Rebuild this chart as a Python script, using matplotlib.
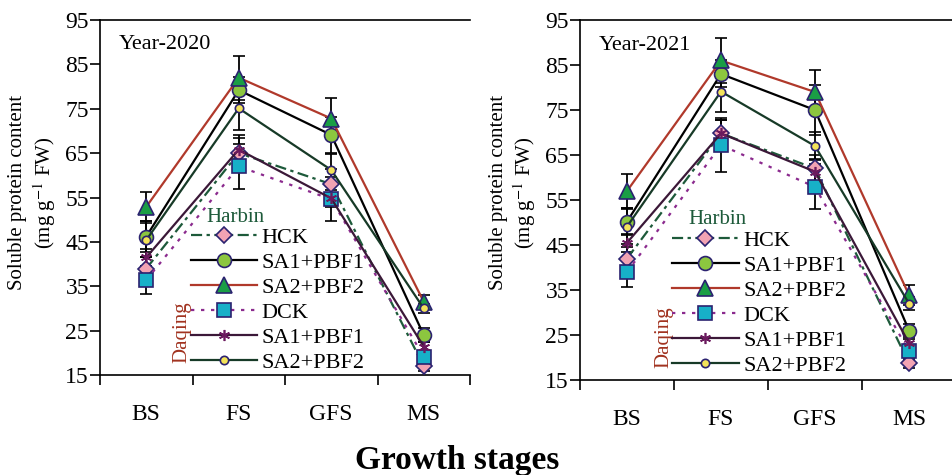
import matplotlib
matplotlib.use("Agg")
import matplotlib.pyplot as plt
from matplotlib.lines import Line2D

plt.rcParams["font.family"] = ["Liberation Serif", "DejaVu Serif"]
plt.rcParams["mathtext.fontset"] = "stix"

stages = ["BS", "FS", "GFS", "MS"]
series_labels = ["HCK", "SA1+PBF1", "SA2+PBF2", "DCK", "SA1+PBF1", "SA2+PBF2"]

# 2020 means and error bars (mg g-1 FW)
hck_2020 = [39.0, 65.0, 58.0, 17.0]
sa1_h_2020 = [46.2, 79.2, 69.1, 24.0]
sa2_h_2020 = [52.9, 82.0, 72.8, 31.5]
dck_2020 = [36.4, 62.0, 54.6, 19.1]
sa1_d_2020 = [41.5, 65.8, 54.8, 21.4]
sa2_d_2020 = [45.4, 75.1, 61.2, 30.0]
err_2020 = [
    [2.5, 4.0, 3.5, 1.0],
    [3.5, 3.0, 4.0, 1.5],
    [3.3, 5.0, 4.6, 1.5],
    [3.2, 5.0, 5.0, 1.2],
    [2.0, 2.5, 2.0, 1.0],
    [3.8, 5.0, 3.5, 1.0],
]

# 2021 means and error bars
hck_2021 = [42.0, 69.8, 62.0, 18.7]
sa1_h_2021 = [50.2, 83.0, 75.0, 26.0]
sa2_h_2021 = [57.0, 86.0, 79.0, 33.9]
dck_2021 = [39.0, 67.2, 57.9, 21.4]
sa1_d_2021 = [45.5, 69.8, 61.3, 23.2]
sa2_d_2021 = [49.1, 79.1, 67.0, 32.0]
err_2021 = [
    [2.5, 3.0, 3.0, 1.0],
    [3.0, 3.0, 5.5, 1.5],
    [3.8, 5.0, 4.8, 2.3],
    [3.3, 6.0, 5.0, 1.2],
    [2.0, 3.0, 2.5, 1.0],
    [3.8, 4.5, 3.0, 1.5],
]

serif = "Liberation Serif"
edge = "#2b2270"
styles = [
    dict(color="#1d5a3a", ls=(0, (5, 2, 1.5, 2)), marker="D", mfc="#f2a3b3", ms=8),
    dict(color="black", ls="-", marker="o", mfc="#8cc63f", ms=10),
    dict(color="#b0392b", ls="-", marker="^", mfc="#1a9e45", ms=11),
    dict(color="#8b2a8e", ls=(0, (1.5, 3)), marker="s", mfc="#17b0c8", ms=10),
    dict(color="#3b1838", ls="-", marker=(6, 2, 0), mfc="#6b1a5e", ms=8, mec="#6b1a5e"),
    dict(color="#173a27", ls="-", marker="o", mfc="#f3e35a", ms=6),
]


def draw_panel(ax, data, errs, year_label):
    x = [0.5, 1.5, 2.5, 3.5]
    handles = []
    for vals, err, st in zip(data, errs, styles):
        mec = st.get("mec", edge)
        ax.errorbar(x, vals, yerr=err, color=st["color"], ls=st["ls"], lw=1.6,
                    marker=st["marker"], mfc=st["mfc"], mec=mec, mew=1.2,
                    ms=st["ms"], ecolor="black", elinewidth=1.3, capsize=4,
                    capthick=1.3, zorder=3)
        handles.append(Line2D([], [], color=st["color"], ls=st["ls"], lw=1.6,
                              marker=st["marker"], mfc=st["mfc"], mec=mec,
                              mew=1.2, ms=st["ms"]))

    ax.set_xlim(0, 4)
    ax.set_ylim(15, 95)
    ax.set_yticks(range(15, 96, 10))
    ax.set_xticks([0, 1, 2, 3, 4])
    ax.set_xticklabels([])
    ax.set_xticks(x, minor=True)
    ax.set_xticklabels(stages, minor=True, family=serif)
    ax.set_yticklabels([str(v) for v in range(15, 96, 10)], family=serif)
    ax.tick_params(axis="x", which="major", direction="out", length=7, width=1.2)
    ax.tick_params(axis="x", which="minor", length=0, pad=21, labelsize=17)
    ax.tick_params(axis="y", direction="out", length=7, width=1.2, pad=1,
                   labelsize=17)
    ax.spines["right"].set_visible(False)
    for s in ("left", "bottom", "top"):
        ax.spines[s].set_linewidth(1.2)

    ax.text(0.05, 0.93, year_label, transform=ax.transAxes, fontsize=16,
            family=serif, va="center", ha="left")

    leg = ax.legend(handles, series_labels, loc="upper left",
                    bbox_to_anchor=(0.245, 0.415), frameon=False,
                    prop=dict(family=serif, size=16),
                    handlelength=3.0, handletextpad=0.2, labelspacing=0.2,
                    borderpad=0, borderaxespad=0)
    leg.set_zorder(5)
    ax.text(0.365, 0.445, "Harbin", transform=ax.transAxes, fontsize=15,
            family=serif, color="#1d5a3a", ha="center", va="center")
    ax.text(0.222, 0.12, "Daqing", transform=ax.transAxes, fontsize=15,
            family=serif, color="#a1321f", ha="center", va="center", rotation=90)


fig = plt.figure(figsize=(9.52, 4.75), dpi=100)
ax1 = fig.add_axes([100 / 952, 100 / 475, 370 / 952, 355 / 475])
ax2 = fig.add_axes([580 / 952, 95 / 475, 376 / 952, 360 / 475])

draw_panel(ax1, [hck_2020, sa1_h_2020, sa2_h_2020, dck_2020, sa1_d_2020, sa2_d_2020],
           err_2020, "Year-2020")
draw_panel(ax2, [hck_2021, sa1_h_2021, sa2_h_2021, dck_2021, sa1_d_2021, sa2_d_2021],
           err_2021, "Year-2021")

for x0 in (18, 498):
    fig.text(x0 / 952, 0.595, "Soluble protein content", rotation=90,
             ha="center", va="center", fontsize=15, family=serif)
    fig.text((x0 + 27) / 952, 0.595, "(mg g$^{-1}$ FW)", rotation=90,
             ha="center", va="center", fontsize=15, family=serif)

fig.text(0.48, 0.03, "Growth stages", ha="center", va="center",
         fontsize=24, fontweight="bold", family=serif)

fig.savefig("out.png", dpi=100)
